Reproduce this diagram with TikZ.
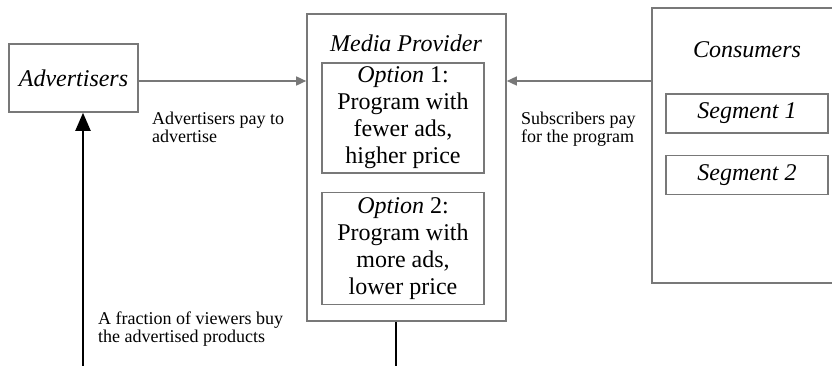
\documentclass[tikz,border=0pt]{standalone}
\usepackage{fontspec}
\setmainfont{LiberationSerif}[
  Extension = .ttf,
  UprightFont = *-Regular,
  ItalicFont = *-Italic,
  BoldFont = *-Bold,
  BoldItalicFont = *-BoldItalic]
\usepackage{xcolor}
\usetikzlibrary{calc}
\usetikzlibrary{positioning}
\usetikzlibrary{arrows.meta}
\definecolor{boxgray}{gray}{0.47}
\tikzset{
  every node/.style = {font = \rmfamily\fontsize{24}{27}\selectfont}
}
\tikzset{
  frame box/.style = {draw=boxgray, line width=1.6pt, inner sep=0pt, align=center}
}
\tikzset{
  note/.style = {font = \rmfamily\fontsize{18}{18}\selectfont, align=left, inner sep=0pt, anchor=base west}
}
\tikzset{
  pay flow/.style = {draw=boxgray, line width=1.5pt, -{Triangle[length=10pt, width=9pt]}}
}
\tikzset{
    >={Triangle[length=18pt, width=15pt]}
}

\begin{document}
\begin{tikzpicture}[x=1pt, y=-1pt]
  \clip (0,0) rectangle (832,366);

  \node[frame box, minimum width=129, minimum height=68] (adv) at (73.5,78) {\textit{Advertisers}};

  % media provider and its two options
  \node[frame box, minimum width=199, minimum height=307] (media) at (406.5,167.5) {};
  \node (mediatitle) at (406,43) {\textit{Media Provider}};
  \node[frame box, minimum width=162, minimum height=110] (opt1) at (403,118)
    {\textit{Option} 1:\\Program with\\fewer ads,\\higher price};
  \node[frame box, minimum width=162, minimum height=112, below=18pt of opt1] (opt2)
    {\textit{Option} 2:\\Program with\\more ads,\\lower price};

  % consumers
  \node[frame box, minimum width=190, minimum height=275] (cons) at (747,145.5) {};
  \node (constitle) at (747,50) {\textit{Consumers}};
  \node[frame box, minimum width=162, minimum height=39] (seg1) at (747,113.5) {\textit{Segment 1}};
  \node[frame box, minimum width=162, minimum height=39, below=21pt of seg1] (seg2) {\textit{Segment 2}};

  \coordinate (payline) at (0,81);
  \draw[pay flow] (adv.east |- payline) -- (media.west |- payline);
  \draw[pay flow] (cons.west |- payline) -- (media.east |- payline);

  \node[note] (advpay) at (152,143) {Advertisers pay to\\advertise};
  \node[note] (subpay) at (521,143) {Subscribers pay\\for the program};
  \node[note] (buyers) at (98,342) {A fraction of viewers buy\\the advertised products};

  \coordinate (buyfoot) at (83,366);
  \draw[line width=2pt, ->] (buyfoot) -- (buyfoot |- adv.south);
  \coordinate (viewfoot) at (396,366);
  \draw[line width=1.8pt] (viewfoot |- media.south) -- (viewfoot);
\end{tikzpicture}
\end{document}
